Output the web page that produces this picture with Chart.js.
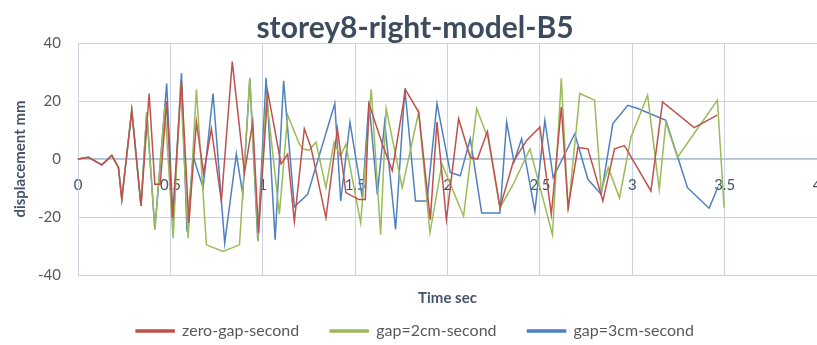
<!DOCTYPE html>
<html>
<head>
<meta charset="utf-8">
<script src="https://cdn.jsdelivr.net/npm/chart.js@4.4.1/dist/chart.umd.min.js"></script>
<style>
  html,body{margin:0;padding:0;background:#fff;overflow:hidden;}
  canvas{display:block;}
</style>
</head>
<body>
<canvas id="chart" width="817" height="345"></canvas>
<script>
// time (sec) and displacement (mm), one pair per series
const timeZero = [0, 0.057, 0.129, 0.183, 0.219, 0.237, 0.291, 0.341, 0.385, 0.416, 0.445, 0.48, 0.512, 0.56, 0.6, 0.641, 0.68, 0.722, 0.776, 0.835, 0.901, 0.946, 0.977, 1.027, 1.099, 1.135, 1.171, 1.225, 1.261, 1.342, 1.404, 1.45, 1.52, 1.555, 1.575, 1.647, 1.701, 1.773, 1.844, 1.907, 1.943, 1.994, 2.06, 2.123, 2.162, 2.216, 2.284, 2.356, 2.428, 2.5, 2.562, 2.616, 2.653, 2.706, 2.76, 2.841, 2.904, 2.958, 3.101, 3.164, 3.335, 3.46];
const dispZero = [0, 0.6, -2, 1.2, -2.9, -13.9, 16.8, -16.2, 22.6, -8.7, -8.7, 20, -20.3, 27, -22, 12.7, -5, 10.4, -14.5, 33.6, -4.7, 12.7, -25.5, 23.2, -1.7, 1.7, -21.5, 10.4, 4, -20.3, 10.4, -11.6, -14, -14, 19.1, 5.2, -4, 23.8, 16.2, -20.9, 12.7, -20.9, 13.9, 0.6, 0, 9.5, -16.8, -1, 6.4, 11, -19.1, 17.9, -16.8, 4, 3.5, -14.5, 3.5, 4.6, -11, 19.7, 10.8, 15.1];

const timeGap2 = [0, 0.057, 0.129, 0.183, 0.219, 0.237, 0.291, 0.341, 0.372, 0.416, 0.47, 0.515, 0.555, 0.596, 0.641, 0.695, 0.785, 0.874, 0.93, 0.975, 1.02, 1.09, 1.135, 1.198, 1.216, 1.25, 1.288, 1.342, 1.386, 1.42, 1.45, 1.53, 1.587, 1.638, 1.668, 1.755, 1.844, 1.905, 1.97, 2.087, 2.158, 2.22, 2.284, 2.356, 2.446, 2.568, 2.616, 2.653, 2.716, 2.796, 2.832, 2.87, 2.931, 2.993, 3.083, 3.146, 3.182, 3.245, 3.461, 3.497];
const dispGap2 = [0, 0.6, -2, 1.2, -2.9, -13.9, 16.8, -16.2, 16.2, -24.3, 18, -27.3, 26, -27.3, 24, -29.6, -31.9, -29.6, 27.8, -28.4, 22, -19.1, 15.1, 5.2, 3.5, 3, 5.8, -9.9, 5.8, 1, 5, -22, 24, -26.1, 17.4, -9.9, 16.2, -25.5, -1.7, -19.7, 17.4, 7, -16.8, -8.7, 3.5, -26.1, 27.8, -18, 22.6, 20.3, -11, -3, -13.4, 7.5, 22, -10.4, 12.7, 0.6, 20.3, -16.8];

const timeGap3 = [0, 0.057, 0.129, 0.183, 0.219, 0.237, 0.291, 0.341, 0.372, 0.416, 0.48, 0.515, 0.56, 0.59, 0.623, 0.677, 0.731, 0.794, 0.857, 0.892, 0.93, 0.973, 1.018, 1.067, 1.113, 1.171, 1.243, 1.39, 1.422, 1.472, 1.539, 1.575, 1.62, 1.66, 1.719, 1.769, 1.827, 1.889, 1.943, 2.015, 2.069, 2.123, 2.185, 2.284, 2.32, 2.36, 2.401, 2.473, 2.527, 2.572, 2.689, 2.76, 2.832, 2.895, 2.976, 3.03, 3.182, 3.299, 3.416, 3.465];
const dispGap3 = [0, 0.6, -2, 1.2, -2.9, -13.9, 16.8, -16.2, 16.2, -24.3, 26, -21.5, 29.6, -25, 1, -9.9, 22.6, -29, 1.7, -12.2, 27.8, -28, 28, -27.8, 27, -16.5, -12.2, 19.1, -14.5, 12.7, -13.4, 19.7, -12.2, 12.7, -24.3, 24.3, -14.5, -14.5, 19.1, -4.6, -5.8, 7, -18.6, -18.6, 12.7, -1, 7, -18, 13.3, -6.4, 8.7, -7, -12.2, 12.2, 18.5, 17.4, 13.3, -9.9, -17, -9.5];

const seriesNames = ["zero-gap-second", "gap=2cm-second", "gap=3cm-second"];
const seriesColors = ["#c0504d", "#9bbb59", "#4f81bd"];
const timeTicks = [0, 4, 0.5];      // min, max, step
const dispTicks = [-40, 40, 20];

const font = 'Lato, "Open Sans", sans-serif';
const slate = "#44546a";
const gridColor = "#c9d3e2";

function pts(t, v){ return t.map((x,i)=>({x:x, y:v[i]})); }

const sets = [[timeZero,dispZero],[timeGap2,dispGap2],[timeGap3,dispGap3]].map((s,i)=>({
  label: seriesNames[i],
  data: pts(s[0], s[1]),
  showLine: true,
  borderColor: seriesColors[i],
  backgroundColor: seriesColors[i],
  borderWidth: 1.5,
  pointRadius: 0,
  tension: 0
}));

new Chart(document.getElementById("chart"), {
  type: "scatter",
  data: { datasets: sets },
  options: {
    responsive: false,
    animation: false,
    // plot runs past the right edge like the original, so the "4" is cut off
    layout: { padding: { left: 10, right: -3, top: 0, bottom: 0 } },
    plugins: {
      title: {
        display: true,
        text: "storey8-right-model-B5",
        color: "#3d4b5e",
        font: { family: font, size: 30, weight: "bold", lineHeight: 1 },
        padding: { top: 13, bottom: 0 }
      },
      legend: {
        position: "bottom",
        maxHeight: 53,
        labels: {
          boxWidth: 38,
          boxHeight: 2,
          padding: 31,
          color: "#595959",
          font: { family: font, size: 16 }
        }
      },
      tooltip: { enabled: false }
    },
    scales: {
      x: {
        type: "linear",
        position: { y: 0 },
        min: timeTicks[0], max: timeTicks[1],
        ticks: { stepSize: timeTicks[2], color: slate, padding: 17, font: { family: font, size: 15 },
                 callback: v => String(+v.toFixed(1)) },
        grid: { color: gridColor, drawTicks: false },
        border: { color: "#b4c2d8", width: 1.5 },
        afterFit: s => { s.height = 0; s.paddingLeft = 0; s.paddingRight = 0; }
      },
      xt: {
        type: "linear",
        position: "bottom",
        min: timeTicks[0], max: timeTicks[1],
        ticks: { display: false },
        grid: { display: false, drawTicks: false },
        border: { display: false },
        title: {
          display: true, text: "Time sec", color: slate,
          font: { family: font, size: 15, weight: "bold" },
          padding: { top: 14, bottom: -15 }
        }
      },
      y: {
        min: dispTicks[0], max: dispTicks[1],
        ticks: { stepSize: dispTicks[2], color: "#595959", padding: 17, font: { family: font, size: 15 } },
        grid: { color: gridColor, drawTicks: false },
        border: { color: gridColor },
        title: {
          display: true, text: "displacement mm", color: slate,
          font: { family: font, size: 15, weight: "bold" },
          padding: { top: 1, bottom: 0 }
        },
        afterFit: s => { s.width = 68; }
      }
    }
  }
});
</script>
</body>
</html>
